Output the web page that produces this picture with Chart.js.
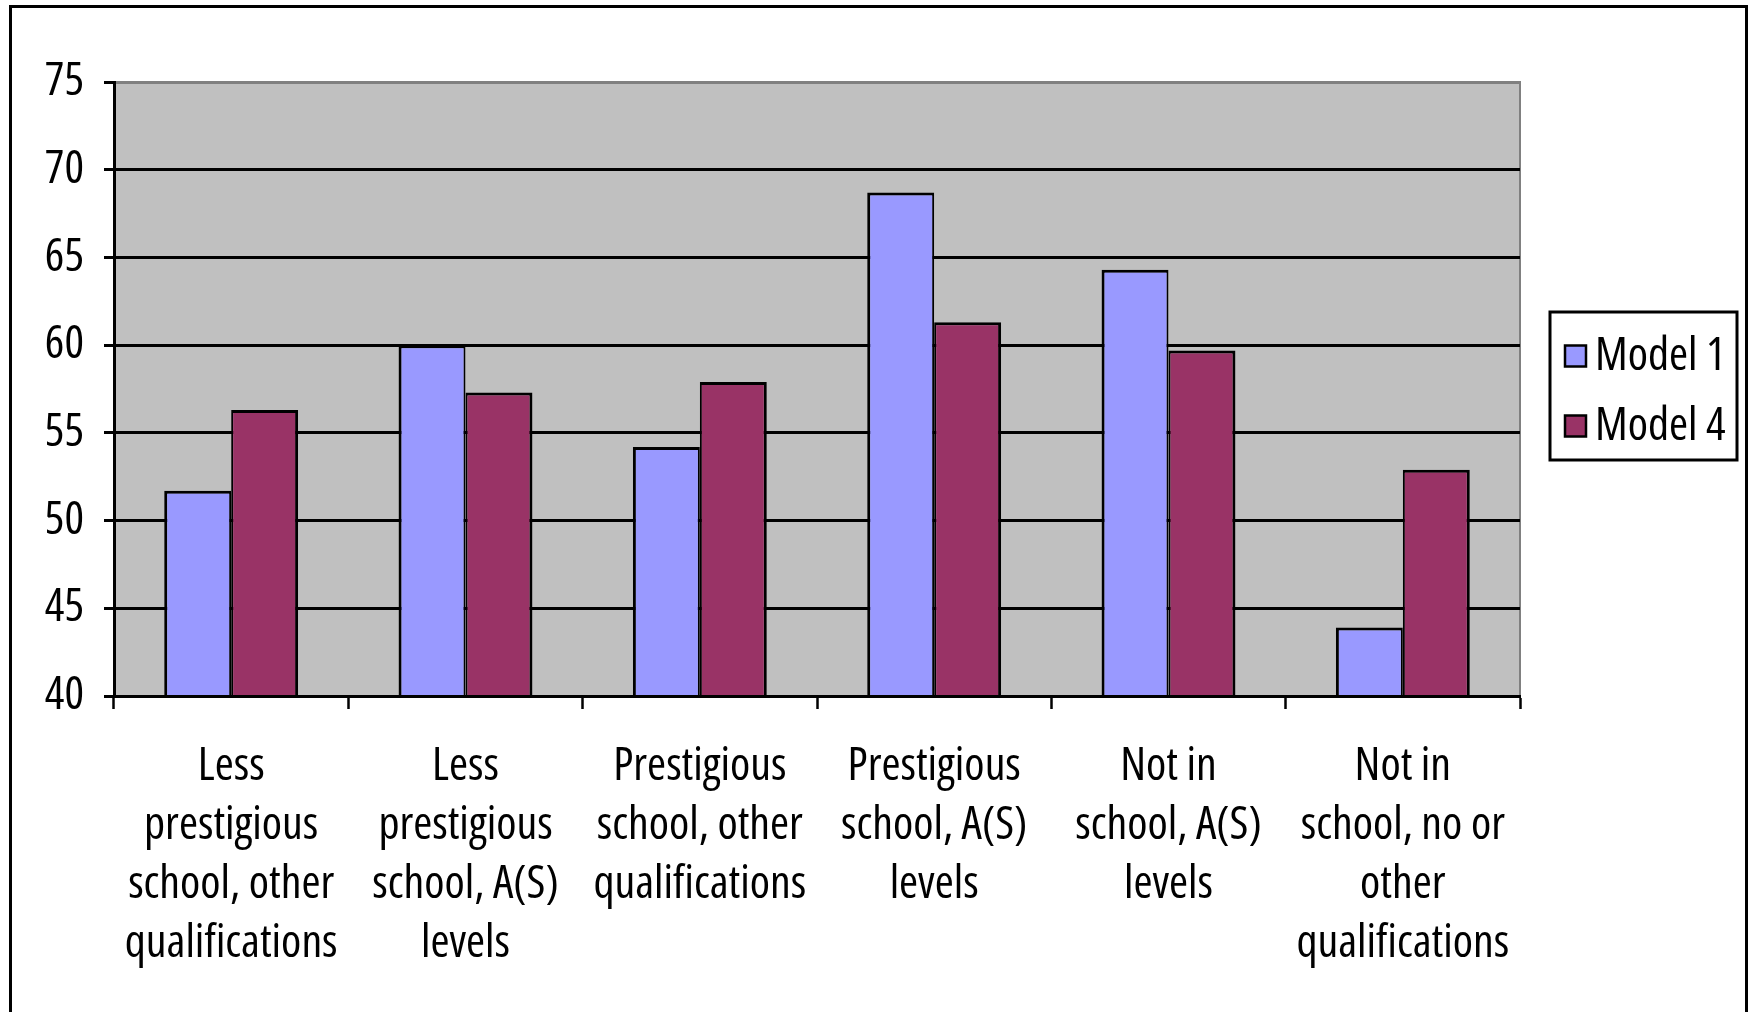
<!DOCTYPE html>
<html>
<head>
<meta charset="utf-8">
<script src="https://cdn.jsdelivr.net/npm/chart.js@4.4.1/dist/chart.umd.min.js"></script>
<style>
  html, body { margin: 0; padding: 0; background: #ffffff; }
  #wrap { width: 1754px; height: 1012px; position: relative; }
</style>
</head>
<body>
<div id="wrap"><canvas id="chart" width="1754" height="1012"></canvas></div>
<script>
// Category labels (one array entry per line of the label)
const categories = [
  ['Less', 'prestigious', 'school, other', 'qualifications'],
  ['Less', 'prestigious', 'school, A(S)', 'levels'],
  ['Prestigious', 'school, other', 'qualifications'],
  ['Prestigious', 'school, A(S)', 'levels'],
  ['Not in', 'school, A(S)', 'levels'],
  ['Not in', 'school, no or', 'other', 'qualifications']
];
const seriesNames = ['Model 1', 'Model 4'];
const model1 = [51.7, 60.0, 54.2, 68.7, 64.3, 43.9];
const model4 = [56.3, 57.3, 57.9, 61.3, 59.7, 52.9];
const yTicks = [40, 45, 50, 55, 60, 65, 70, 75];

// Narrow sans: condensed face of Open Sans
const FONT_FAMILY = "'Open Sans', sans-serif";
const FONT_STRETCH = 'condensed';
const FONT_SIZE = 46;
const COLORS = ['#9999ff', '#993366'];

// White page, grey plot area and the outer frame
const backdrop = {
  id: 'backdrop',
  beforeDraw(chart) {
    const { ctx, chartArea: a } = chart;
    ctx.save();
    ctx.fillStyle = '#ffffff';
    ctx.fillRect(0, 0, chart.width, chart.height);
    ctx.fillStyle = '#c0c0c0';
    ctx.fillRect(a.left, a.top, a.right - a.left, a.bottom - a.top);
    ctx.strokeStyle = '#808080';
    ctx.lineWidth = 2;
    ctx.beginPath();
    ctx.moveTo(a.left, a.top);
    ctx.lineTo(a.right, a.top);
    ctx.lineTo(a.right, a.bottom);
    ctx.stroke();
    ctx.strokeStyle = '#000000';
    ctx.lineWidth = 3;
    ctx.beginPath();
    ctx.moveTo(10.5, chart.height);
    ctx.lineTo(10.5, 6.5);
    ctx.lineTo(1746.5, 6.5);
    ctx.lineTo(1746.5, chart.height);
    ctx.stroke();
    ctx.restore();
  }
};

// Boxed legend to the right of the plot
const boxedLegend = {
  id: 'boxedLegend',
  afterDraw(chart) {
    const { ctx, chartArea: a } = chart;
    const left = a.right + 30, w = 187, h = 148;
    const top = (a.top + a.bottom) / 2 - h / 2 - 3;
    ctx.save();
    ctx.fillStyle = '#ffffff';
    ctx.fillRect(left, top, w, h);
    ctx.strokeStyle = '#000000';
    ctx.lineWidth = 3;
    ctx.strokeRect(left, top, w, h);
    ctx.font = FONT_STRETCH + ' ' + FONT_SIZE + 'px ' + FONT_FAMILY;
    ctx.textBaseline = 'middle';
    ctx.textAlign = 'left';
    chart.data.datasets.forEach((ds, i) => {
      const cy = top + 44 + i * 70;
      const mx = left + 15, ms = 21;
      ctx.fillStyle = ds.backgroundColor;
      ctx.fillRect(mx, cy - ms / 2, ms, ms);
      ctx.lineWidth = 2.5;
      ctx.strokeStyle = '#000000';
      ctx.strokeRect(mx, cy - ms / 2, ms, ms);
      ctx.fillStyle = '#000000';
      ctx.fillText(ds.label, mx + ms + 9, cy + 1);
    });
    ctx.restore();
  }
};

const tickFont = { family: FONT_FAMILY, weight: FONT_STRETCH, size: FONT_SIZE };

new Chart(document.getElementById('chart'), {
  type: 'bar',
  data: {
    labels: categories,
    datasets: [
      {
        label: seriesNames[0],
        data: model1,
        backgroundColor: COLORS[0],
        borderColor: '#000000',
        borderWidth: { top: 3, left: 3, right: 2, bottom: 0 },
        borderSkipped: false
      },
      {
        label: seriesNames[1],
        data: model4,
        backgroundColor: COLORS[1],
        borderColor: '#000000',
        borderWidth: { top: 3, left: 2, right: 3, bottom: 0 },
        borderSkipped: false
      }
    ]
  },
  options: {
    responsive: false,
    animation: false,
    devicePixelRatio: 1,
    layout: { padding: { left: 0, top: 82, right: 234, bottom: 36 } },
    datasets: { bar: { categoryPercentage: 2 / 3.5, barPercentage: 1, inflateAmount: 0 } },
    plugins: {
      legend: { display: false },
      tooltip: { enabled: false },
      title: { display: false }
    },
    scales: {
      x: {
        offset: true,
        afterFit(scale) { scale.height = 280; },
        grid: {
          offset: true,
          drawOnChartArea: false,
          drawTicks: true,
          tickLength: 13,
          tickWidth: 2.5,
          tickColor: '#000000'
        },
        border: { display: true, color: '#000000', width: 3, z: 1 },
        ticks: {
          padding: 28,
          maxRotation: 0,
          autoSkip: false,
          color: '#000000',
          font: Object.assign({ lineHeight: '59px' }, tickFont)
        }
      },
      y: {
        min: 40,
        max: 75,
        afterFit(scale) { scale.width = 114; },
        afterBuildTicks(scale) { scale.ticks = yTicks.map(v => ({ value: v })); },
        grid: {
          color: ctx => (ctx.tick && ctx.tick.value === 75 ? '#808080' : '#000000'),
          lineWidth: 3,
          drawTicks: true,
          tickLength: 10,
          tickWidth: 3,
          tickColor: '#000000'
        },
        border: { display: true, color: '#000000', width: 3 },
        ticks: {
          padding: 20,
          color: '#000000',
          font: tickFont
        }
      }
    }
  },
  plugins: [backdrop, boxedLegend]
});
</script>
</body>
</html>
